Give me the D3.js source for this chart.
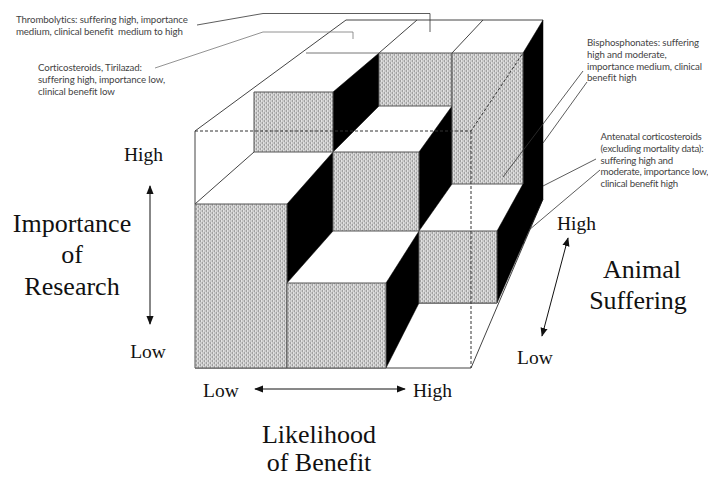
<!DOCTYPE html>
<html>
<head>
<meta charset="utf-8">
<script src="https://cdn.jsdelivr.net/npm/d3@7"></script>
<style>
  html, body { margin: 0; background: #fff; }
  svg { display: block; }
  .axis-label { font-family: "Liberation Serif", serif; fill: #111; }
  .callout { font-family: Lato, sans-serif; font-size: 9.7px; fill: #444; }
</style>
</head>
<body>
<div id="chart"></div>
<script>
const width = 708;
const height = 477;

// Levels on each axis of the cube
const benefitLevels = ['Low', 'Medium', 'High'];
const sufferingLevels = ['Low', 'Moderate', 'High'];
const importanceLevels = ['None', 'Low', 'Medium', 'High'];

// Stack height per suffering row (front to back) and benefit column,
// as an index into importanceLevels
const sufferingLowHeights = [2, 1, 0];
const sufferingModerateHeights = [3, 2, 1];
const sufferingHighHeights = [3, 3, 3];
const blockHeights = [sufferingLowHeights, sufferingModerateHeights, sufferingHighHeights];

const thrombolyticsText = ['Thrombolytics: suffering high, importance', 'medium, clinical benefit  medium to high'];
const corticosteroidsText = ['Corticosteroids, Tirilazad:', 'suffering high, importance low,', 'clinical benefit low'];
const bisphosphonatesText = ['Bisphosphonates: suffering', 'high and moderate,', 'importance medium, clinical', 'benefit high'];
const antenatalText = ['Antenatal corticosteroids', '(excluding mortality data):', 'suffering high and', 'moderate, importance low,', 'clinical benefit high'];

// The drawing is in perspective, so every depth row gets its own pair of scales
const rowX = [
  [195, 287, 386, 471],
  [254, 333, 419, 497],
  [306, 379, 452, 523],
  [346, 417, 483, 543],
].map(range => d3.scaleLinear().domain(d3.range(benefitLevels.length + 1)).range(range));

const rowY = [
  [368, 283, 204, 131],
  [303, 231, 152, 92],
  [244, 184, 106, 53],
  [199, 140, 78, 20],
].map(range => d3.scaleLinear().domain(d3.range(importanceLevels.length)).range(range));

const pt = (row, col, level) => [rowX[row](col), rowY[row](level)];

const svg = d3.select('#chart').append('svg')
  .attr('width', width)
  .attr('height', height);

const defs = svg.append('defs');

// Woven grey hatch used on the front faces
const hatch = defs.append('pattern')
  .attr('id', 'hatch')
  .attr('patternUnits', 'userSpaceOnUse')
  .attr('width', 4)
  .attr('height', 4);
hatch.append('rect').attr('width', 4).attr('height', 4).attr('fill', '#c9c9c9');
hatch.append('rect').attr('x', 0).attr('y', 0).attr('width', 1).attr('height', 2).attr('fill', '#a0a0a0');
hatch.append('rect').attr('x', 2).attr('y', 2).attr('width', 1).attr('height', 2).attr('fill', '#a0a0a0');
hatch.append('rect').attr('x', 1).attr('y', 0).attr('width', 1).attr('height', 2).attr('fill', '#e2e2e2');
hatch.append('rect').attr('x', 3).attr('y', 2).attr('width', 1).attr('height', 2).attr('fill', '#e2e2e2');

defs.append('marker')
  .attr('id', 'arrow')
  .attr('viewBox', '0 0 10 8')
  .attr('refX', 9)
  .attr('refY', 4)
  .attr('markerUnits', 'userSpaceOnUse')
  .attr('markerWidth', 9)
  .attr('markerHeight', 8)
  .attr('orient', 'auto-start-reverse')
  .append('path')
  .attr('d', 'M0,0 L10,4 L0,8 Z')
  .attr('fill', '#111');

const polygon = d3.line();

// Thin outline of the cube, under the blocks
const boxEdges = [
  [pt(0, 0, 3), pt(3, 0, 3), pt(3, 3, 3)],
  [pt(0, 0, 3), pt(0, 0, 2), pt(1, 0, 2)],
  [pt(2, 1, 3), pt(3, 1, 3)],
  [pt(2, 2, 3), pt(3, 2, 3)],
  [pt(0, 0, 0), pt(0, 3, 0), pt(3, 3, 0)],
  [pt(1, 2, 0), pt(1, 3, 0)],
];

svg.append('g').selectAll('path')
  .data(boxEdges)
  .enter()
  .append('path')
  .attr('d', polygon)
  .attr('fill', 'none')
  .attr('stroke', '#444')
  .attr('stroke-width', 1);

svg.append('path')
  .attr('d', polygon([pt(2, 0, 3), pt(2, 1, 3)]))
  .attr('fill', 'none')
  .attr('stroke', '#777');

// Front and side faces come straight from the heights table
const frontFaces = [];
const sideFaces = [];
blockHeights.forEach((rowHeights, row) => {
  rowHeights.forEach((h, col) => {
    const prev = row > 0 ? blockHeights[row - 1][col] : 0;
    const next = col < rowHeights.length - 1 ? rowHeights[col + 1] : 0;
    if (h > prev) {
      frontFaces.push([pt(row, col, prev), pt(row, col + 1, prev), pt(row, col + 1, h), pt(row, col, h)]);
    }
    if (h > next) {
      sideFaces.push([pt(row, col + 1, h), pt(row + 1, col + 1, h), pt(row + 1, col + 1, next), pt(row, col + 1, next)]);
    }
  });
});

svg.append('g').selectAll('path')
  .data(sideFaces)
  .enter()
  .append('path')
  .attr('d', d => polygon(d) + 'Z')
  .attr('fill', '#000')
  .attr('stroke', '#000')
  .attr('stroke-width', 0.5);

svg.append('g').selectAll('path')
  .data(frontFaces)
  .enter()
  .append('path')
  .attr('d', d => polygon(d) + 'Z')
  .attr('fill', 'url(#hatch)')
  .attr('stroke', '#555')
  .attr('stroke-width', 1);

// Hidden edges of the cube
const dashedEdges = [
  [pt(0, 0, 3), pt(0, 3, 3), pt(2, 3, 3)],
  [pt(0, 3, 3), pt(0, 3, 0)],
];

svg.append('g').selectAll('path')
  .data(dashedEdges)
  .enter()
  .append('path')
  .attr('d', polygon)
  .attr('fill', 'none')
  .attr('stroke', '#333')
  .attr('stroke-width', 1)
  .attr('stroke-dasharray', '3,2');

// Leader lines from the callouts
const leaders = [
  { points: [[197, 25], [263, 13.5], [430, 13.5], [430, 32]], color: '#333' },
  { points: [[155, 68], [263, 32], [353, 32], [353, 39]], color: '#777' },
  { points: [[583, 71], [503, 177]], color: '#333' },
  { points: [[587, 82], [543, 143]], color: '#333' },
  { points: [[596, 159], [543, 186]], color: '#333' },
  { points: [[600, 170], [529, 230]], color: '#333' },
];

svg.append('g').selectAll('path')
  .data(leaders)
  .enter()
  .append('path')
  .attr('d', d => polygon(d.points))
  .attr('fill', 'none')
  .attr('stroke', d => d.color)
  .attr('stroke-width', 0.8);

// Double headed arrows
const arrows = [
  [[150, 186], [150, 324]],
  [[255, 389], [405, 389]],
  [[568, 238], [542, 336]],
];

svg.append('g').selectAll('path')
  .data(arrows)
  .enter()
  .append('path')
  .attr('d', polygon)
  .attr('fill', 'none')
  .attr('stroke', '#111')
  .attr('stroke-width', 1)
  .attr('marker-start', 'url(#arrow)')
  .attr('marker-end', 'url(#arrow)');

const axisLabels = [
  { text: importanceLevels[3], x: 143.5, y: 161, size: 19.5, anchor: 'middle' },
  { text: importanceLevels[1], x: 148, y: 358, size: 19.5, anchor: 'middle' },
  { text: benefitLevels[0], x: 203, y: 397, size: 19.5, anchor: 'start' },
  { text: benefitLevels[2], x: 413, y: 397, size: 19.5, anchor: 'start' },
  { text: sufferingLevels[2], x: 557, y: 230, size: 19.5, anchor: 'start' },
  { text: sufferingLevels[0], x: 517, y: 364, size: 19.5, anchor: 'start' },
  { text: 'Importance', x: 72, y: 232, size: 26, anchor: 'middle' },
  { text: 'of', x: 72, y: 263, size: 26, anchor: 'middle' },
  { text: 'Research', x: 72, y: 295, size: 26, anchor: 'middle' },
  { text: 'Likelihood', x: 319, y: 443, size: 26, anchor: 'middle' },
  { text: 'of Benefit', x: 319, y: 471.3, size: 26, anchor: 'middle' },
  { text: 'Animal', x: 642, y: 278, size: 26, anchor: 'middle' },
  { text: 'Suffering', x: 638, y: 309, size: 26, anchor: 'middle' },
];

svg.append('g').selectAll('text')
  .data(axisLabels)
  .enter()
  .append('text')
  .attr('class', 'axis-label')
  .attr('x', d => d.x)
  .attr('y', d => d.y)
  .attr('font-size', d => d.size)
  .attr('text-anchor', d => d.anchor)
  .text(d => d.text);

const callouts = [
  { lines: thrombolyticsText, x: 16, y: 23, spacing: -0.12 },
  { lines: corticosteroidsText, x: 38, y: 71, spacing: -0.12 },
  { lines: bisphosphonatesText, x: 587, y: 46, spacing: -0.12 },
  { lines: antenatalText, x: 600.5, y: 140, spacing: -0.22 },
];

callouts.forEach(c => {
  svg.append('g').selectAll('text')
    .data(c.lines)
    .enter()
    .append('text')
    .attr('class', 'callout')
    .style('white-space', 'pre')
    .style('letter-spacing', c.spacing + 'px')
    .attr('x', c.x)
    .attr('y', (d, i) => c.y + i * 11.8)
    .text(d => d);
});
</script>
</body>
</html>
